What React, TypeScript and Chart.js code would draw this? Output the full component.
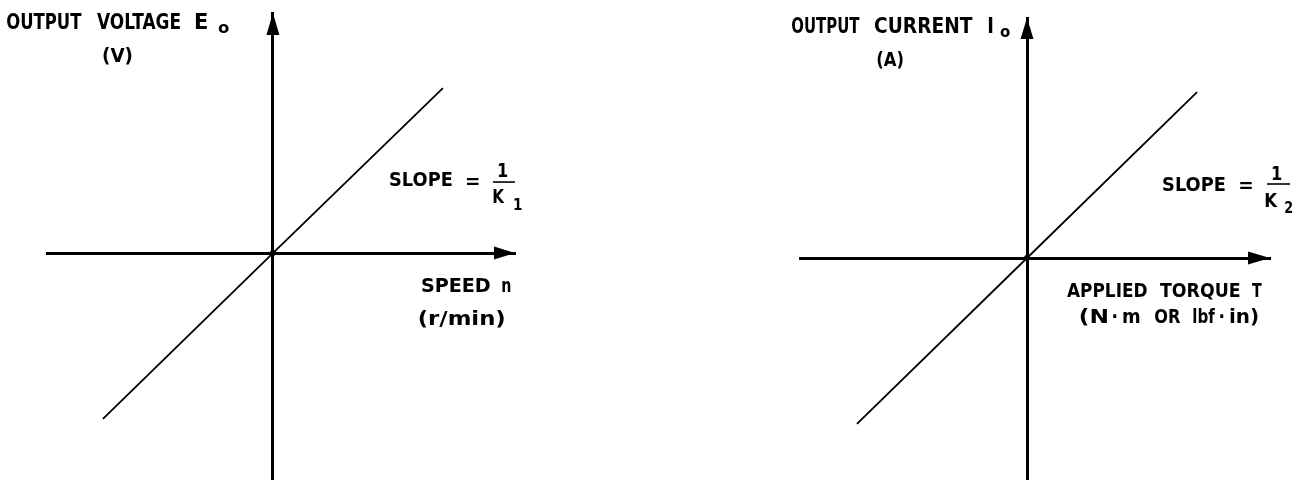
import React, { useEffect, useRef } from "react";
import { Chart, registerables } from "chart.js";

Chart.register(...registerables);

// ---- data (arbitrary units: the transfer line y = x / K) ----
const lineX = [-10, 0, 10];
const leftLineY = [-9.76, 0, 9.7];
const rightLineY = [-9.76, 0, 9.76];
const leftXRange = [-13.29, 14.24];
const leftYRange = [-13.35, 14.12];
const rightXRange = [-13.35, 14.29];
const rightYRange = [-13.06, 14.12];

// ---- texts ----
const leftYTitle = ["OUTPUT", "VOLTAGE", "E", "o", "(V)"];
const leftXTitle = ["SPEED", "n", "(r/min)"];
const leftSlope = ["SLOPE", "=", "1", "K", "1"];
const rightYTitle = ["OUTPUT", "CURRENT", "I", "o", "(A)"];
const rightXTitle = ["APPLIED", "TORQUE", "T", "(N", "·", "m", "OR", "lbf", "·", "in)"];
const rightSlope = ["SLOPE", "=", "1", "K", "2"];

const FONT = '"DejaVu Sans", sans-serif';

type Lbl = { t: string; x: number; y: number; w?: number; size?: number; center?: boolean };

const diagramPlugin = {
  id: "diagram",
  afterDraw(chart: any, _args: any, opts: any) {
    const { ctx, chartArea, scales } = chart;
    const ox = scales.x.getPixelForValue(0);
    const oy = scales.y.getPixelForValue(0);
    ctx.save();
    ctx.fillStyle = "#000";
    ctx.strokeStyle = "#000";
    // arrow heads
    const a = opts.arrow;
    ctx.beginPath();
    ctx.moveTo(ox, chartArea.top);
    ctx.lineTo(ox - a.half, chartArea.top + a.lenV);
    ctx.lineTo(ox + a.half, chartArea.top + a.lenV);
    ctx.closePath();
    ctx.fill();
    ctx.beginPath();
    ctx.moveTo(chartArea.right, oy);
    ctx.lineTo(chartArea.right - a.lenH, oy - a.half);
    ctx.lineTo(chartArea.right - a.lenH, oy + a.half);
    ctx.closePath();
    ctx.fill();
    // fraction bar
    const f = opts.frac;
    ctx.lineWidth = 1.6;
    ctx.beginPath();
    ctx.moveTo(ox + f.x1, oy + f.y);
    ctx.lineTo(ox + f.x2, oy + f.y);
    ctx.stroke();
    // labels
    ctx.textBaseline = "alphabetic";
    ctx.textAlign = "left";
    (opts.labels as Lbl[]).forEach((l) => {
      ctx.font = `bold ${l.size || 20}px ${FONT}`;
      const m = ctx.measureText(l.t);
      const ink = m.actualBoundingBoxLeft + m.actualBoundingBoxRight;
      const sx = l.w ? l.w / ink : 0.85;
      ctx.save();
      const px = ox + l.x - (l.center ? (ink * sx) / 2 : 0);
      ctx.translate(px, oy + l.y);
      ctx.scale(sx, 1);
      ctx.fillText(l.t, m.actualBoundingBoxLeft, 0);
      ctx.restore();
    });
    ctx.restore();
  },
};

function makeConfig(xr: number[], yr: number[], ly: number[], padding: any, diagram: any) {
  const axisCommon = {
    type: "linear",
    ticks: { display: false },
    grid: { display: false, drawTicks: false },
    border: { display: true, color: "#000", width: 3 },
    title: { display: false },
  };
  return {
    type: "scatter",
    data: {
      datasets: [
        {
          data: lineX.map((x, i) => ({ x, y: ly[i] })),
          showLine: true,
          borderColor: "#000",
          borderWidth: 1.8,
          pointRadius: [0, 3, 0],
          pointBackgroundColor: "#000",
          pointBorderWidth: 0,
          fill: false,
          tension: 0,
        },
      ],
    },
    options: {
      responsive: false,
      animation: false,
      devicePixelRatio: 1,
      events: [],
      layout: { padding },
      plugins: { legend: { display: false }, tooltip: { enabled: false }, diagram },
      scales: {
        x: { ...axisCommon, min: xr[0], max: xr[1], position: { y: 0 } },
        y: { ...axisCommon, min: yr[0], max: yr[1], position: { x: 0 } },
      },
    },
    plugins: [diagramPlugin],
  } as any;
}

// label helper: page-space ink box -> offsets from the panel origin
const mk = (ox: number, oy: number) =>
  (t: string, l: number, r: number | null, base: number, size = 20, center = false): Lbl => ({
    t,
    x: l - ox,
    y: base - oy,
    w: r === null ? undefined : r - l,
    size,
    center,
  });

const L = mk(273, 253);
const R = mk(1027, 258);

const leftCfg = () =>
  makeConfig(leftXRange, leftYRange, leftLineY, { left: 47, right: 136, top: 13, bottom: 0 }, {
    arrow: { half: 6.5, lenV: 22, lenH: 21 },
    frac: { x1: 220, x2: 242, y: -71 },
    labels: [
      L(leftYTitle[0], 7, 82, 29, 21),
      L(leftYTitle[1], 97, 180, 29, 21),
      L(leftYTitle[2], 195, 207, 29, 21),
      L(leftYTitle[3], 218, 229, 33, 15),
      L(leftYTitle[4], 103, 132, 62, 20),
      L(leftSlope[0], 390, 452, 186, 19),
      L(leftSlope[1], 467, 479, 188, 20),
      L(leftSlope[2], 503, null, 177, 19, true),
      L(leftSlope[3], 493, 505, 203, 19),
      L(leftSlope[4], 514, null, 210, 16),
      L(leftXTitle[0], 422, 490, 292, 19),
      L(leftXTitle[1], 502, 511, 292, 19),
      L(leftXTitle[2], 419, 505, 325, 19),
    ],
  });

const rightCfg = () =>
  makeConfig(rightXRange, rightYRange, rightLineY, { left: 149, right: 33, top: 18, bottom: 0 }, {
    arrow: { half: 6.5, lenV: 21, lenH: 22 },
    frac: { x1: 240, x2: 263, y: -74 },
    labels: [
      R(rightYTitle[0], 792, 860, 33, 21),
      R(rightYTitle[1], 875, 973, 33, 21),
      R(rightYTitle[2], 988, null, 33, 21),
      R(rightYTitle[3], 1000, 1010, 37, 15),
      R(rightYTitle[4], 877, 903, 66, 20),
      R(rightSlope[0], 1163, 1225, 191, 19),
      R(rightSlope[1], 1240, 1252, 192, 20),
      R(rightSlope[2], 1277, null, 180, 19, true),
      R(rightSlope[3], 1265, 1278, 207, 19),
      R(rightSlope[4], 1285, null, 213, 15),
      R(rightXTitle[0], 1067, 1147, 297, 20),
      R(rightXTitle[1], 1160, 1240, 297, 20),
      R(rightXTitle[2], 1252, 1262, 297, 20),
      R(rightXTitle[3], 1080, 1107, 323, 20),
      R(rightXTitle[4], 1115, null, 323, 20, true),
      R(rightXTitle[5], 1123, 1140, 323, 20),
      R(rightXTitle[6], 1155, 1180, 323, 20),
      R(rightXTitle[7], 1193, 1215, 323, 20),
      R(rightXTitle[8], 1222, null, 323, 20, true),
      R(rightXTitle[9], 1230, 1258, 323, 20),
    ],
  });

function Panel({ left, width, cfg }: { left: number; width: number; cfg: () => any }) {
  const ref = useRef<HTMLCanvasElement>(null);
  useEffect(() => {
    const chart = new Chart(ref.current as HTMLCanvasElement, cfg());
    return () => chart.destroy();
  }, []);
  return (
    <canvas
      ref={ref}
      width={width}
      height={480}
      style={{ position: "absolute", left, top: 0, width, height: 480, display: "block" }}
    />
  );
}

export default function App() {
  return (
    <div style={{ position: "fixed", left: 0, top: 0, width: 1303, height: 480, background: "#fff" }}>
      <Panel left={0} width={651} cfg={leftCfg} />
      <Panel left={651} width={652} cfg={rightCfg} />
    </div>
  );
}
